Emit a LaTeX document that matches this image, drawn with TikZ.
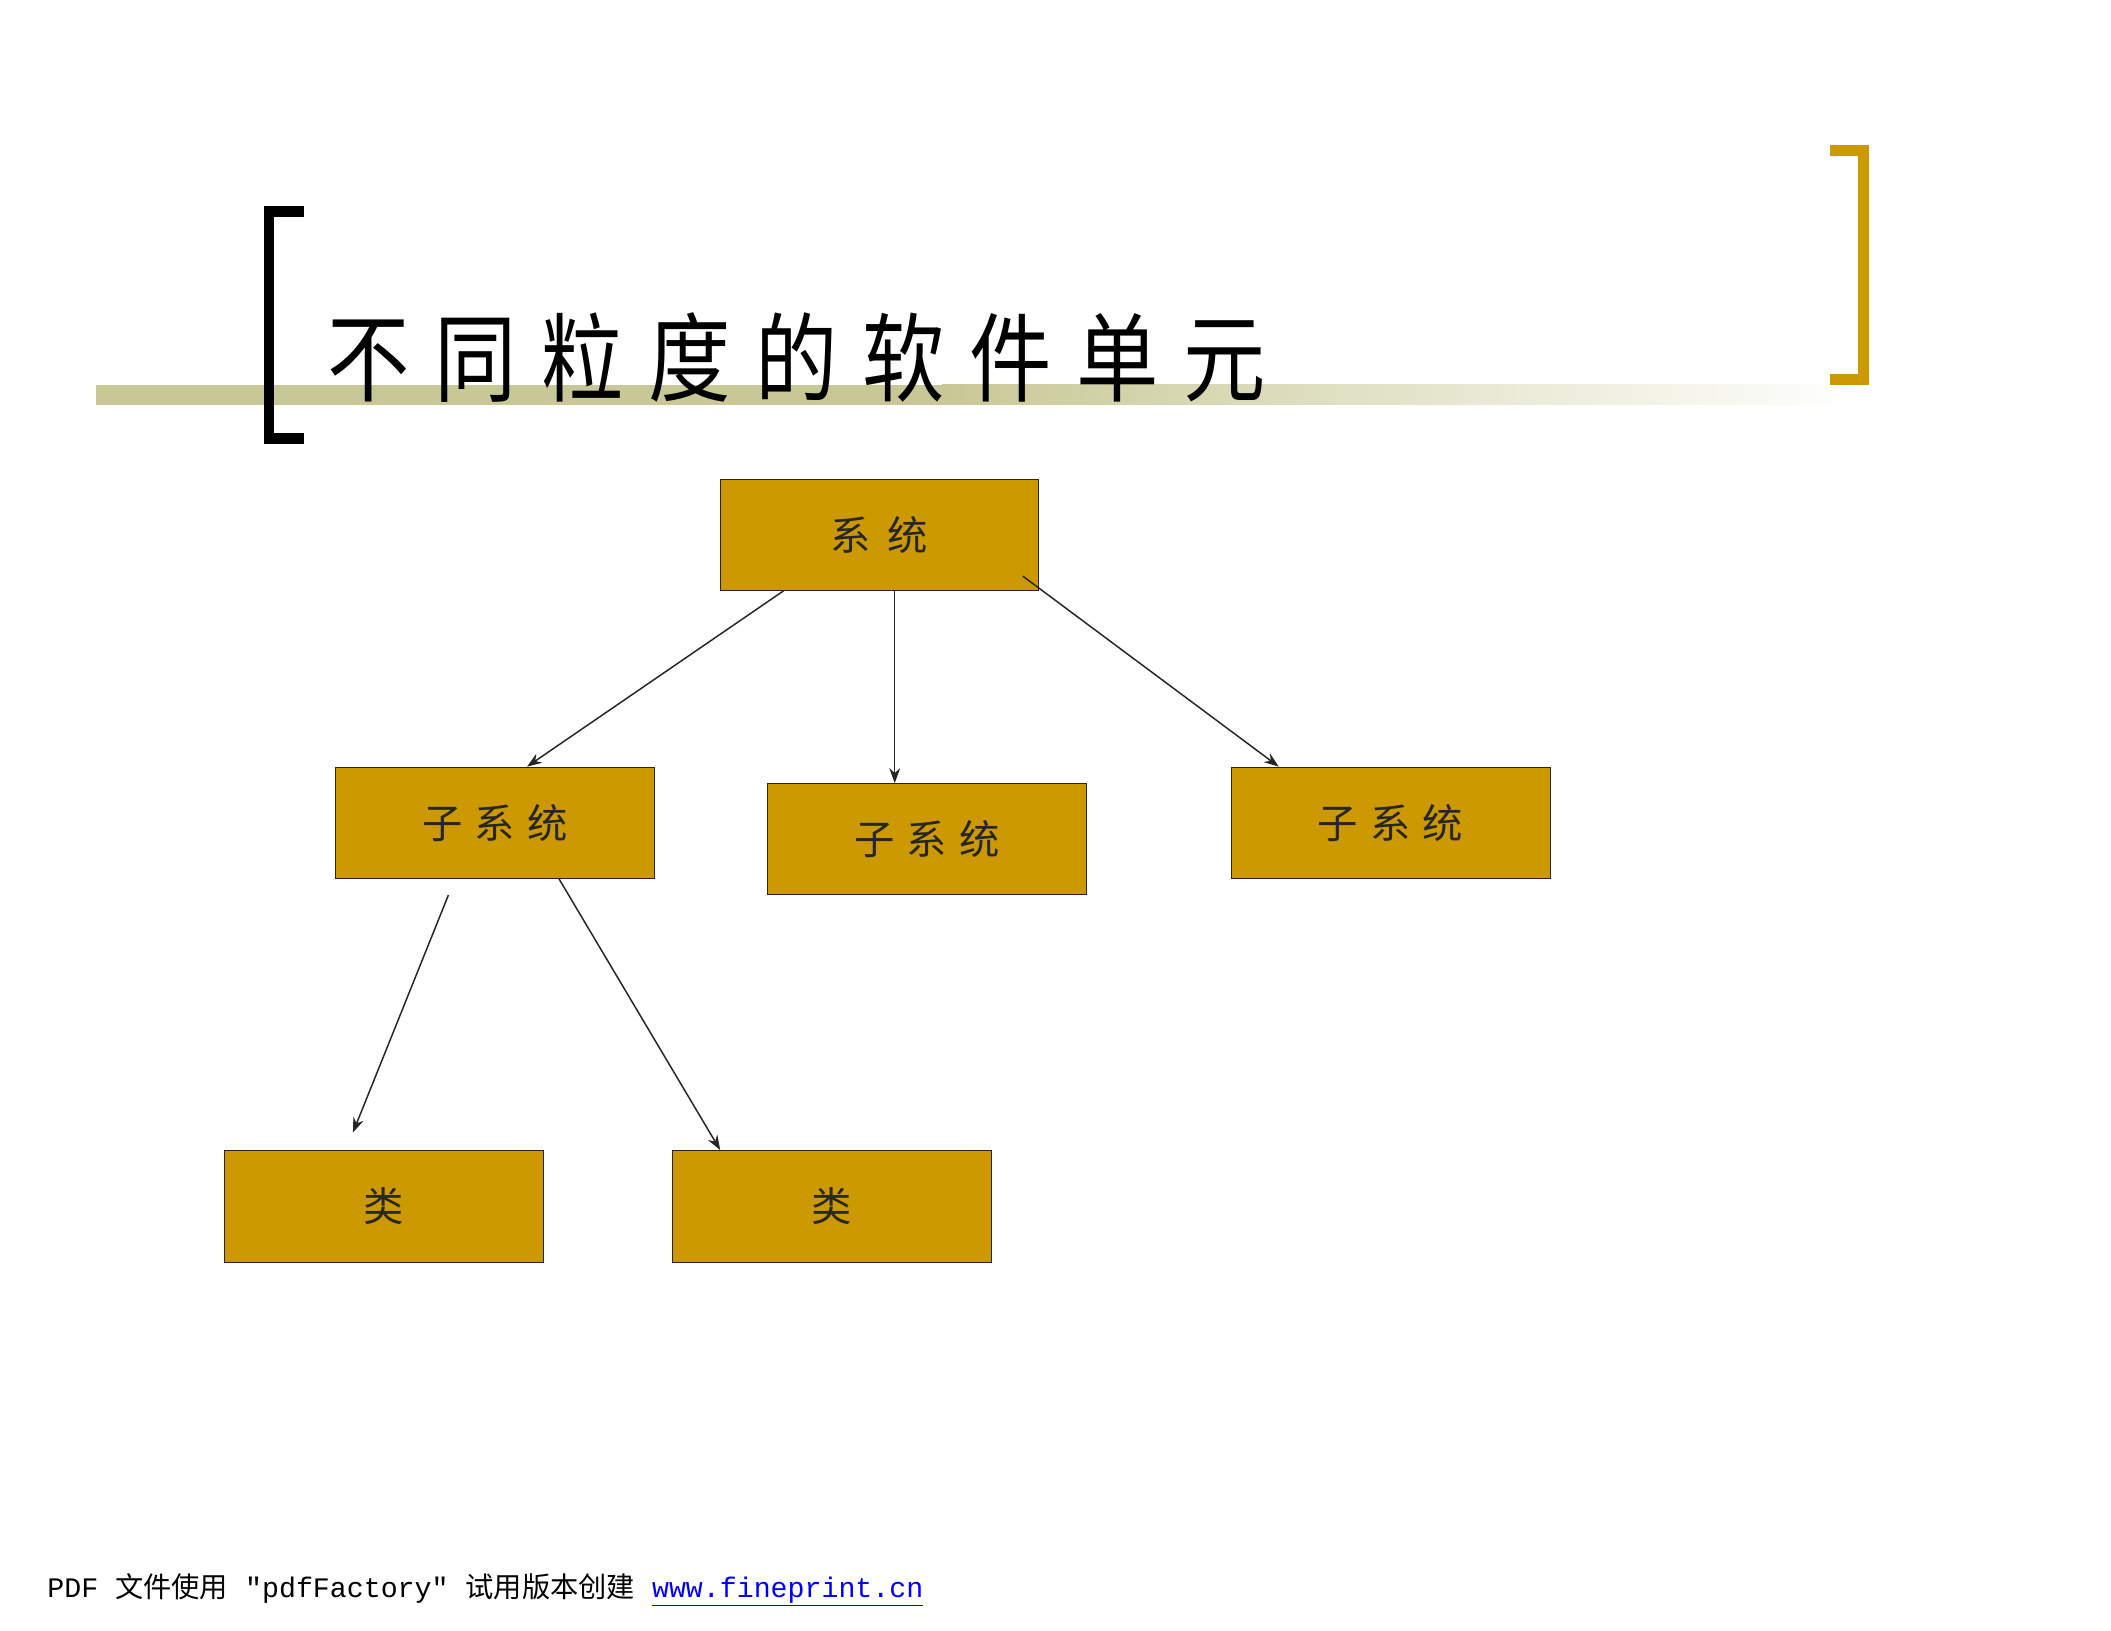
\documentclass[tikz,border=0pt]{standalone}
\usepackage{fontspec}
\newfontfamily\cjk{Noto Sans CJK SC}
\newfontfamily\monof{Liberation Mono}
\usetikzlibrary{calc,arrows.meta}
\definecolor{gold}{RGB}{204,153,0}
\definecolor{olive}{RGB}{200,200,150}
\begin{document}
\begin{tikzpicture}[x=1pt,y=-1pt,
 box/.style={draw=black!85,fill=gold,minimum width=237pt,minimum height=83pt,inner sep=0pt,font=\cjk\fontsize{30}{30}\selectfont,text=black!85},
 arr/.style={draw=black!85,line width=1.1pt,-{Stealth[length=11pt,width=8pt]}}]
\useasboundingbox (0,0) rectangle (1569,1212);
\fill[olive] (71,286) rectangle (700,301);
\shade[left color=olive,right color=white] (700,286) rectangle (1380,301);
\draw[line width=8pt] (226,157) -- (200,157) -- (200,326) -- (226,326);
\draw[gold,line width=8pt] (1360,112) -- (1385,112) -- (1385,282) -- (1360,282);
\foreach \c [count=\i] in {不,同,粒,度,的,软,件,单,元}
  \node[font=\cjk\fontsize{72}{72}\selectfont,xscale=0.85,anchor=base] (t\i) at (274+79.5*\i-79.5,293) {\c};
\node[box] (sys) at (653.5,397.5) {系\hspace{0.4em}统};
\node[box] (s1) at (368,611.5) {子\hspace{0.3em}系\hspace{0.3em}统};
\node[box] (s2) at (689,623.5) {子\hspace{0.3em}系\hspace{0.3em}统};
\node[box] (s3) at (1033.5,611.5) {子\hspace{0.3em}系\hspace{0.3em}统};
\node[box] (c1) at (285,896.5) {类};
\node[box] (c2) at (618,896.5) {类};
\coordinate (a1) at ($(sys.south west)!0.2!(sys.south east)$);
\coordinate (a3) at ($(sys.south east)+(-12,-11)$);
\coordinate (b1) at ($(s1.north west)!0.6!(s1.north east)$);
\coordinate (b3) at ($(s3.north west)!0.15!(s3.north east)$);
\coordinate (a2) at (665,439);
\coordinate (b2) at (665,582);
\coordinate (d1) at ($(s1.south west)+(84,12)$);
\coordinate (d2) at ($(s1.south west)!0.7!(s1.south east)$);
\coordinate (e1) at ($(c1.north west)+(96,-13)$);
\coordinate (e2) at ($(c2.north west)+(36,0)$);
\draw[arr] (a1) -- (b1);
\draw[arr] (a2) -- (b2);
\draw[arr] (a3) -- (b3);
\draw[arr] (d1) -- (e1);
\draw[arr] (d2) -- (e2);
\node[anchor=base west,inner sep=0pt,font=\fontsize{21}{21}\selectfont] (foot) at (35,1187)
 {\monof PDF {\cjk 文件使用} "pdfFactory" {\cjk 试用版本创建} \textcolor{blue}{\underline{www.fineprint.cn}}};
\end{tikzpicture}
\end{document}
